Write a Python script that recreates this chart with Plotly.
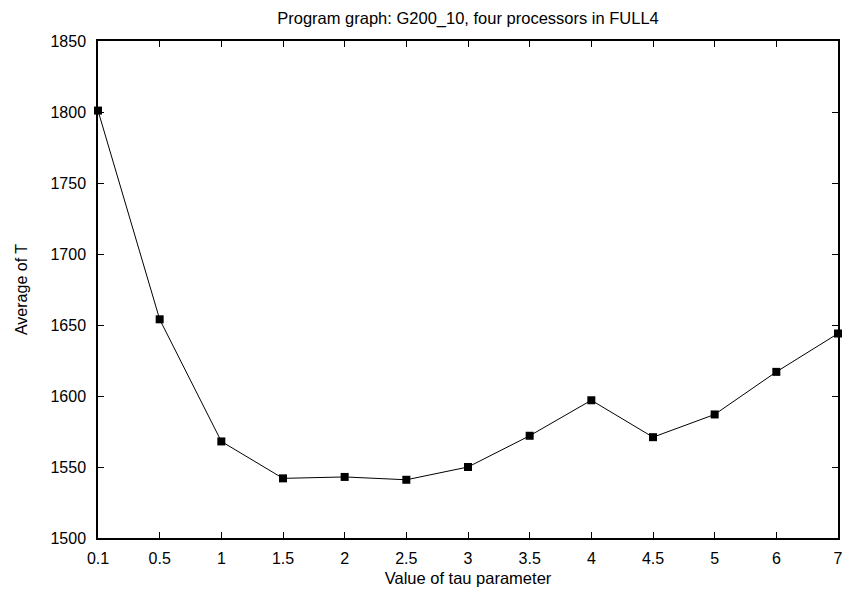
import plotly.graph_objects as go

tau_labels = ["0.1", "0.5", "1", "1.5", "2", "2.5", "3", "3.5", "4", "4.5", "5", "6", "7"]
avg_T = [1801, 1654, 1568, 1542, 1543, 1541, 1550, 1572, 1597, 1571, 1587, 1617, 1644]

fig = go.Figure()
fig.add_trace(go.Scatter(
    x=tau_labels, y=avg_T, mode="lines+markers",
    line=dict(color="black", width=1),
    marker=dict(symbol="square", size=8, color="black"),
    showlegend=False, cliponaxis=False,
))

font = dict(family="Liberation Sans, Arial, sans-serif", size=16, color="black")
tfont = dict(family="Liberation Sans, Arial, sans-serif", size=16.5, color="black")
axis_common = dict(
    showline=True, linecolor="black", linewidth=1.5, mirror="allticks",
    ticks="inside", ticklen=6, tickcolor="black", tickwidth=1,
    showgrid=False, zeroline=False, tickfont=font, automargin=False,
)
fig.update_layout(
    width=843, height=593,
    margin=dict(l=98, r=5, t=41, b=55),
    paper_bgcolor="white", plot_bgcolor="white",
    font=font,
    title=dict(text="Program graph: G200_10, four processors in FULL4",
               x=0.5, xref="paper", xanchor="center", y=0.970, yanchor="middle",
               font=tfont),
    xaxis=dict(axis_common, type="category", range=[0, 12], ticklabelstandoff=5,
               title=dict(text="Value of tau parameter", standoff=6, font=tfont)),
    yaxis=dict(axis_common, range=[1500, 1850], dtick=50, ticklabelstandoff=7,
               title=dict(text="Average of T", standoff=19, font=font)),
)
fig.write_html("out.html", config={"displayModeBar": False},
               post_script="document.body.style.margin='0px';")
